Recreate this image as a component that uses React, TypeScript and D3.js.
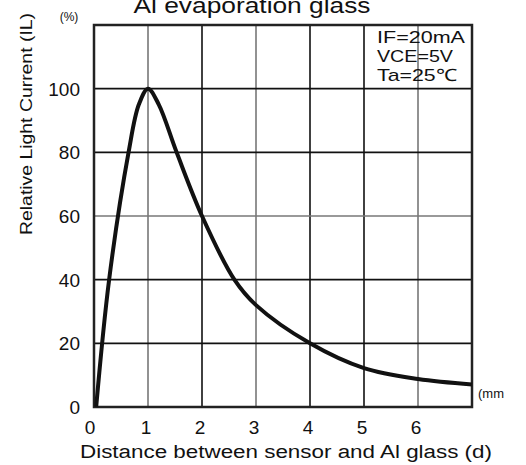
import React from "react";
import * as d3 from "d3";

const distance = [0.04, 0.28, 0.64, 0.83, 1.0, 1.2, 1.53, 2.0, 2.6, 3.0, 4.0, 5.0, 6.0, 7.0];
const current = [0, 40, 80, 95, 100, 95, 80, 60, 40, 32, 20, 12.2, 8.8, 7.1];
const xTicks = [0, 1, 2, 3, 4, 5, 6];
const yTicks = [0, 20, 40, 60, 80, 100];
const xGrid = [1, 2, 3, 4, 5, 6];
const xGridGray = [1, 3, 6];
const yGrid = [20, 40, 60, 80, 100];
const yGridGray = [60];
const conditions = ["IF=20mA", "VCE=5V", "Ta=25℃"];
const conditionWidths = [88, 76, 80];

const W = 526, H = 465;
const FONT = "'Liberation Sans', Arial, sans-serif";

export default function App() {
  const x = d3.scaleLinear().domain([0, 7]).range([94, 472]);
  const y = d3.scaleLinear().domain([0, 120]).range([407, 25]);
  const pts = distance.map((d, i) => [d, current[i]] as [number, number]);
  const line = d3.line<[number, number]>()
    .x(d => x(d[0]))
    .y(d => y(d[1]))
    .curve(d3.curveCatmullRom.alpha(0.5));
  return (
    <svg width={W} height={H} style={{ position: "absolute", left: 0, top: 0, background: "#fff" }} fontFamily={FONT}>
      <rect x={0} y={0} width={W} height={H} fill="#fff" />
      {xGrid.map(v => (
        <line key={"xg" + v} x1={x(v)} x2={x(v)} y1={y(120)} y2={y(0)}
          stroke={xGridGray.includes(v) ? "#777" : "#111"} strokeWidth={1.6} />
      ))}
      {yGrid.map(v => (
        <line key={"yg" + v} x1={x(0)} x2={x(7)} y1={y(v)} y2={y(v)}
          stroke={yGridGray.includes(v) ? "#777" : "#111"} strokeWidth={1.6} />
      ))}
      <rect x={x(0)} y={y(120)} width={x(7) - x(0)} height={y(0) - y(120)} fill="none" stroke="#222" strokeWidth={2.5} />
      <path d={line(pts) || ""} fill="none" stroke="#111" strokeWidth={4} strokeLinejoin="round" />
      {yTicks.map(v => (
        <text key={"yt" + v} x={80} y={y(v)} dy="0.36em" textAnchor="end" fontSize={19} fill="#111">{v}</text>
      ))}
      {xTicks.map(v => (
        <text key={"xt" + v} x={x(v) - (v === 0 ? 4 : 2)} y={434} textAnchor="middle" fontSize={19} fill="#111">{v}</text>
      ))}
      <text x={69} y={21} textAnchor="middle" fontSize={12} fill="#111">(%)</text>
      <text x={478} y={398} fontSize={13} fill="#111">(mm</text>
      <text x={252} y={13} textAnchor="middle" fontSize={22} fill="#111" textLength={237} lengthAdjust="spacingAndGlyphs">Al evaporation glass</text>
      <text x={286} y={458} textAnchor="middle" fontSize={18} fill="#111" textLength={412} lengthAdjust="spacingAndGlyphs">Distance between sensor and Al glass  (d)</text>
      <text transform="translate(32,124) rotate(-90)" textAnchor="middle" fontSize={17} fill="#111" textLength={222} lengthAdjust="spacingAndGlyphs">Relative Light Current  (IL)</text>
      {conditions.map((c, i) => (
        <text key={c} x={377} y={43 + i * 19} fontSize={17} fill="#111" textLength={conditionWidths[i]} lengthAdjust="spacingAndGlyphs">{c}</text>
      ))}
    </svg>
  );
}
